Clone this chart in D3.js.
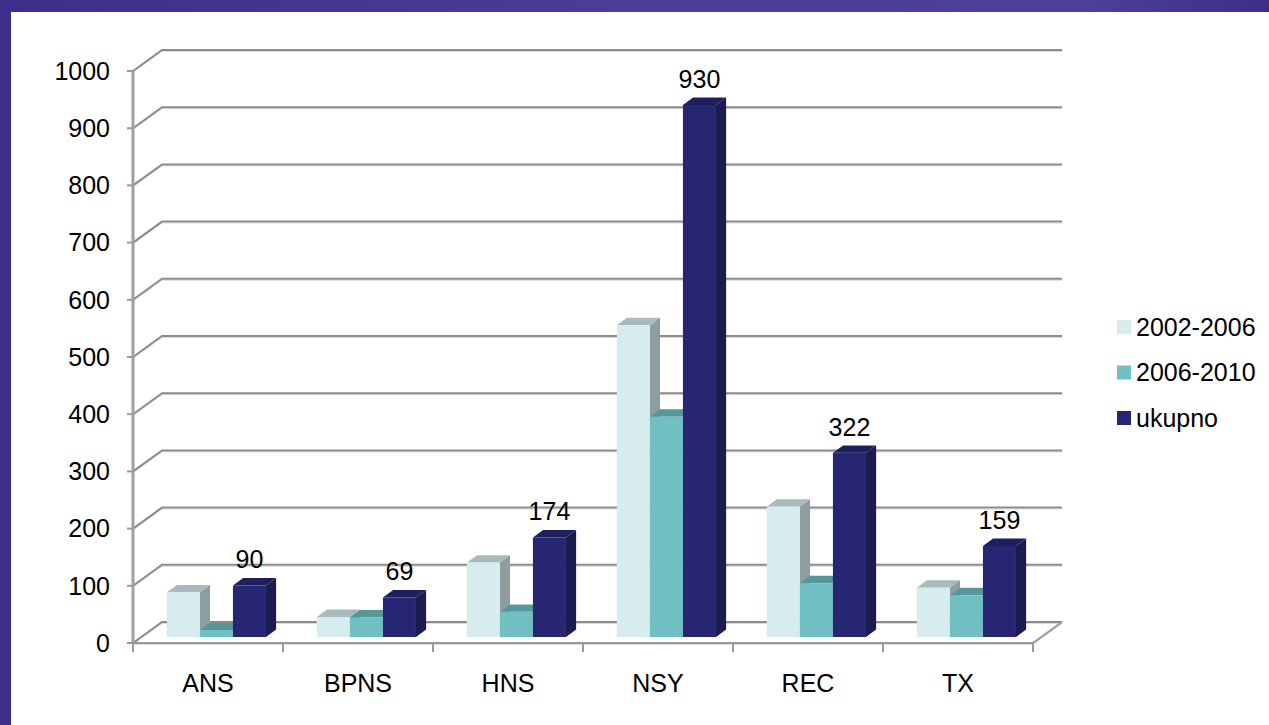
<!DOCTYPE html>
<html>
<head>
<meta charset="utf-8">
<script src="https://cdn.jsdelivr.net/npm/d3@7"></script>
<style>
    html, body { margin: 0; padding: 0; background: #fff; }
    svg text { font-family: "Liberation Sans", Arial, sans-serif; fill: #000; }
</style>
</head>
<body>
<div id="chart"></div>
<script>
const categories = ["ANS", "BPNS", "HNS", "NSY", "REC", "TX"]
const seriesNames = ["2002-2006", "2006-2010", "ukupno"]
const values0206 = [78, 35, 130, 545, 228, 86]
const values0610 = [12, 34, 44, 385, 94, 73]
const valuesTotal = [90, 69, 174, 930, 322, 159]
const yTicks = [0, 100, 200, 300, 400, 500, 600, 700, 800, 900, 1000]

const seriesValues = [values0206, values0610, valuesTotal]

const W = 1269, H = 725
const depthX = 29, depthY = 21 // floor / wall depth
const barZ0 = 0.29, barZ1 = 0.64 // where the bars sit inside the depth

const colors = {
    "2002-2006": { front: "#d7ecef", top: "#a8babb", side: "#8e9d9d" },
    "2006-2010": { front: "#6fbfc3", top: "#579797", side: "#4c8485" },
    "ukupno": { front: "#262672", top: "#1f1f5e", side: "#1b1b4f" }
}

const svg = d3.select("#chart").append("svg")
    .attr("width", W)
    .attr("height", H)

// purple frame
const defs = svg.append("defs")
const grad = defs.append("linearGradient").attr("id", "frame")
    .attr("x1", 0).attr("y1", 0).attr("x2", 1).attr("y2", 0)
grad.append("stop").attr("offset", 0).attr("stop-color", "#3d2e8c")
grad.append("stop").attr("offset", 0.5).attr("stop-color", "#4a3e98")
grad.append("stop").attr("offset", 0.85).attr("stop-color", "#4c4299")
grad.append("stop").attr("offset", 1).attr("stop-color", "#3b2f88")
svg.append("rect").attr("width", W).attr("height", H).attr("fill", "url(#frame)")
svg.append("rect").attr("x", 11).attr("y", 12).attr("width", W - 11).attr("height", H - 12).attr("fill", "#fff")

const x = d3.scaleBand()
    .domain(categories)
    .range([133, 1033])

const xInner = d3.scaleBand()
    .domain(seriesNames)
    .range([0, x.bandwidth()])
    .paddingInner(0)
    .paddingOuter(0.77)

const y = d3.scaleLinear()
    .domain([0, 1000])
    .range([643, 71])

const proj = (px, py, z) => [px + z * depthX, py - z * depthY]
const poly = pts => "M" + pts.map(p => p.join(",")).join("L") + "Z"

// gridlines: side wall diagonal + back wall horizontal
const grid = svg.append("g")
yTicks.forEach(t => {
    const yy = y(t)
    const a = [x.range()[0], yy]
    const b = proj(x.range()[0], yy, 1)
    const c = proj(x.range()[1], yy, 1)
    grid.append("path")
        .attr("d", `M${a}L${b}L${c}`)
        .attr("fill", "none").attr("stroke", "#dcdcdc").attr("stroke-width", 1)
        .attr("transform", "translate(0,1.5)")
    grid.append("path")
        .attr("d", `M${a}L${b}L${c}`)
        .attr("fill", "none").attr("stroke", "#8c8c8c").attr("stroke-width", 2)
})

// floor front edge + right diagonal
const floorY = y(0)
const floorA = [x.range()[0], floorY], floorB = [x.range()[1], floorY], floorC = proj(x.range()[1], floorY, 1)
grid.append("path")
    .attr("d", `M${floorA}L${floorB}L${floorC}`)
    .attr("fill", "none").attr("stroke", "#dcdcdc").attr("stroke-width", 1)
    .attr("transform", "translate(0,1.5)")
grid.append("path")
    .attr("d", `M${floorA}L${floorB}L${floorC}`)
    .attr("fill", "none").attr("stroke", "#999", ).attr("stroke-width", 2)

// y axis line
grid.append("line")
    .attr("x1", x.range()[0]).attr("x2", x.range()[0])
    .attr("y1", y(1000)).attr("y2", y(0))
    .attr("stroke", "#a0a0a0").attr("stroke-width", 3)

// y ticks + labels
const yAxis = svg.append("g")
yAxis.selectAll("line").data(yTicks).enter().append("line")
    .attr("x1", x.range()[0] - 6).attr("x2", x.range()[0])
    .attr("y1", d => y(d)).attr("y2", d => y(d))
    .attr("stroke", "#999").attr("stroke-width", 2)
yAxis.selectAll("text").data(yTicks).enter().append("text")
    .attr("x", 110)
    .attr("y", d => y(d))
    .attr("dy", "0.35em")
    .attr("text-anchor", "end")
    .style("font-size", "25px")
    .text(d => d)

// x ticks + labels
const xAxis = svg.append("g")
const xTickPos = categories.map(c => x(c)).concat([x.range()[1]])
xAxis.selectAll("line").data(xTickPos).enter().append("line")
    .attr("x1", d => d).attr("x2", d => d)
    .attr("y1", floorY).attr("y2", floorY + 9)
    .attr("stroke", "#999").attr("stroke-width", 2)
xAxis.selectAll("text").data(categories).enter().append("text")
    .attr("x", d => x(d) + x.bandwidth() / 2)
    .attr("y", 692)
    .attr("text-anchor", "middle")
    .style("font-size", "25px")
    .text(d => d)

// bars
const bars = svg.append("g")
categories.forEach((cat, ci) => {
    seriesNames.forEach((s, si) => {
        const v = seriesValues[si][ci]
        const col = colors[s]
        const x0 = x(cat) + xInner(s), x1 = x0 + xInner.bandwidth()
        const yt = y(v), yb = y(0)
        const f0 = proj(x0, yt, barZ0), f1 = proj(x1, yt, barZ0)
        const fb0 = proj(x0, yb, barZ0), fb1 = proj(x1, yb, barZ0)
        const b0 = proj(x0, yt, barZ1), b1 = proj(x1, yt, barZ1)
        const bb1 = proj(x1, yb, barZ1)
        const g = bars.append("g")
        g.append("path").attr("d", poly([f1, b1, bb1, fb1])).attr("fill", col.side)
        g.append("path").attr("d", poly([f0, b0, b1, f1])).attr("fill", col.top)
        g.append("path").attr("d", poly([f0, f1, fb1, fb0])).attr("fill", col.front)
    })
})

// data labels on totals
svg.append("g").selectAll("text")
    .data(categories)
    .enter()
    .append("text")
    .attr("x", (d, i) => proj(x(d) + xInner("ukupno") + xInner.bandwidth() / 2, 0, barZ0)[0])
    .attr("y", (d, i) => proj(0, y(valuesTotal[i]), barZ0)[1] - 17)
    .attr("text-anchor", "middle")
    .style("font-size", "25px")
    .text((d, i) => valuesTotal[i])

// legend
const legend = svg.append("g")
seriesNames.forEach((s, i) => {
    const ly = 327 + i * 45.5
    legend.append("rect")
        .attr("x", 1117).attr("y", ly - 7)
        .attr("width", 14).attr("height", 14)
        .attr("fill", colors[s].front)
    legend.append("text")
        .attr("x", 1136).attr("y", ly)
        .attr("dy", "0.35em")
        .style("font-size", "25px")
        .text(s)
})
</script>
</body>
</html>
